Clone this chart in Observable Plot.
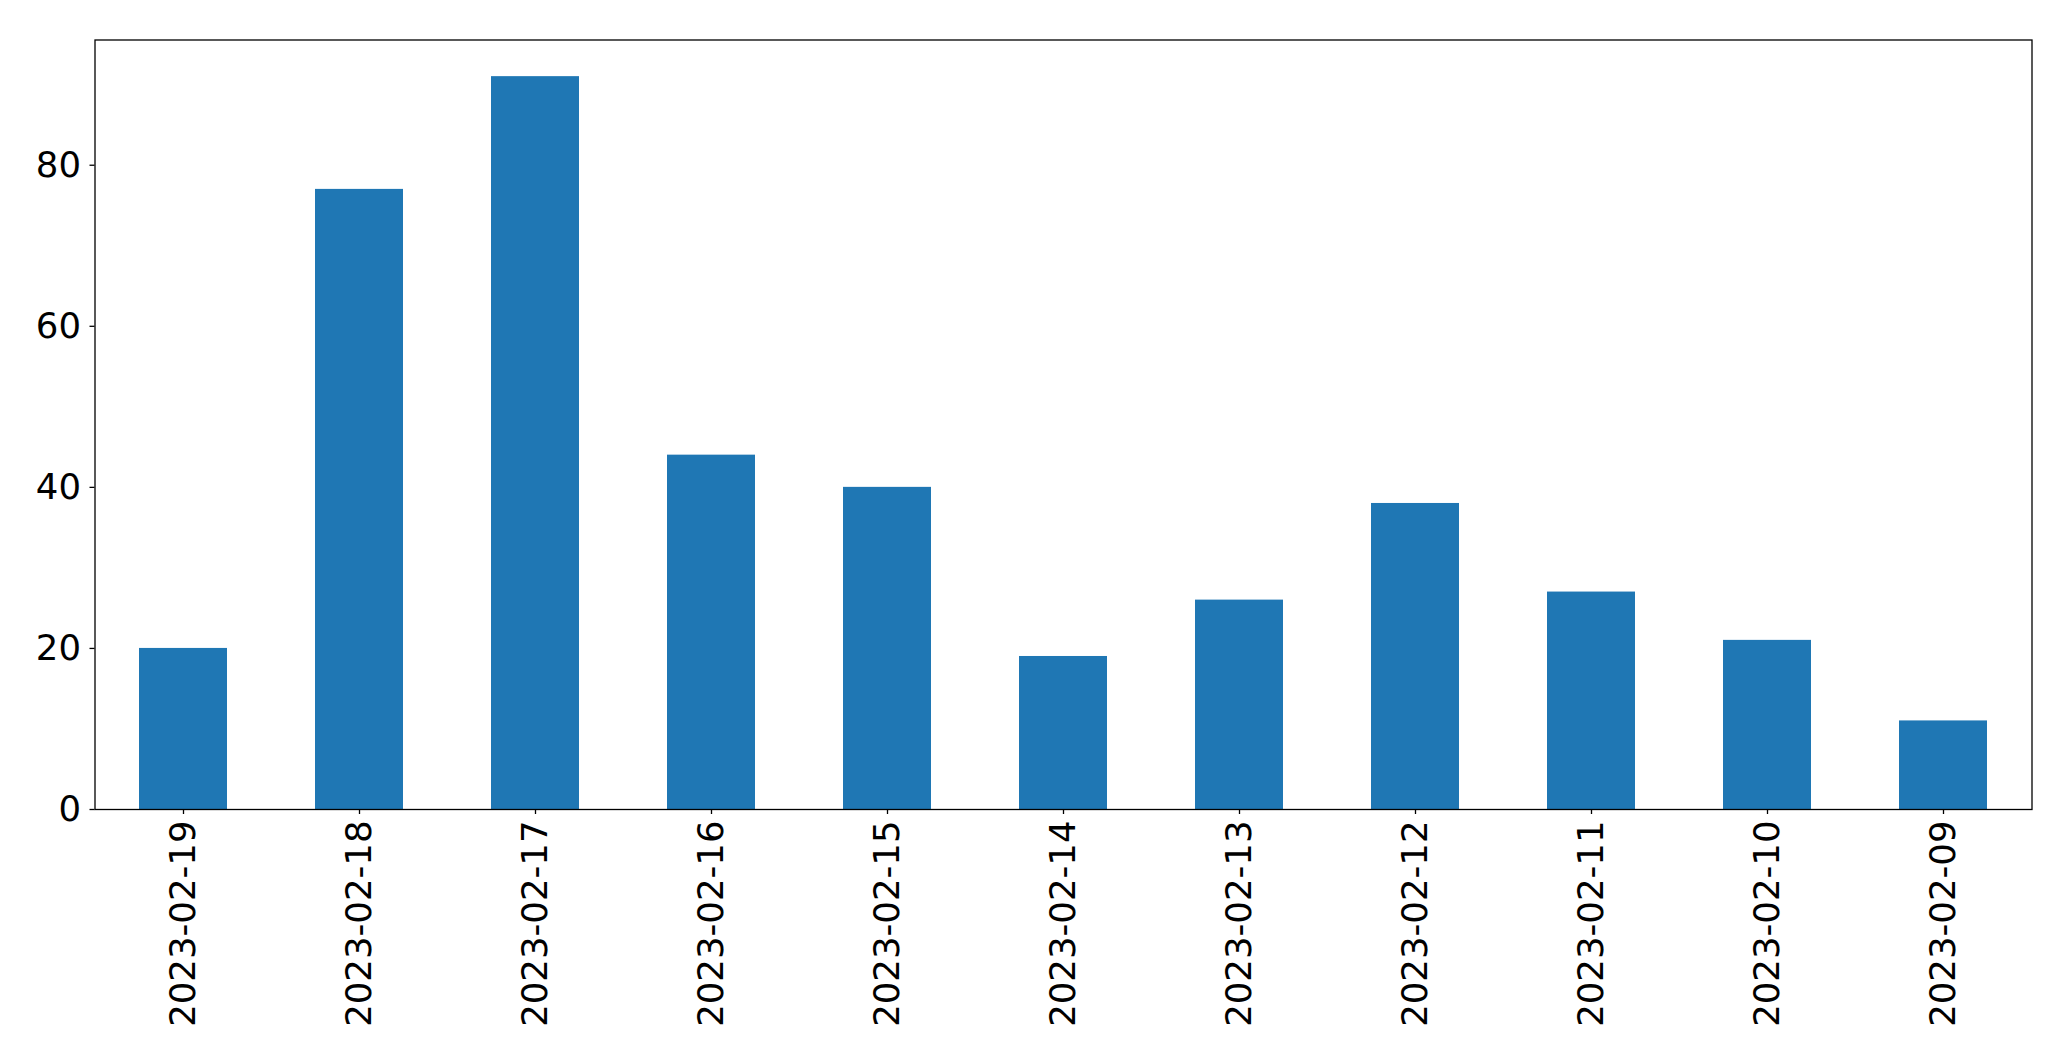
<!DOCTYPE html>
<html>
<head>
<meta charset="utf-8">
<script src="https://cdn.jsdelivr.net/npm/d3@7"></script>
<script src="https://cdn.jsdelivr.net/npm/@observablehq/plot@0.6"></script>
<style>
  html, body { margin: 0; padding: 0; background: #fff; }
  #chart svg { display: block; }
</style>
</head>
<body>
<div id="chart"></div>
<script>
const dates = ["2023-02-19","2023-02-18","2023-02-17","2023-02-16","2023-02-15","2023-02-14","2023-02-13","2023-02-12","2023-02-11","2023-02-10","2023-02-09"];
const counts = [20, 77, 91, 44, 40, 19, 26, 38, 27, 21, 11];
const yTicks = [0, 20, 40, 60, 80];

const data = dates.map((d, i) => ({date: d, count: counts[i]}));

const chart = Plot.plot({
  width: 2071,
  height: 1061,
  marginLeft: 94.5,
  marginRight: 39.5,
  marginTop: 39.5,
  marginBottom: 252,
  style: {fontFamily: "DejaVu Sans", fontSize: "35.5px", color: "#000", background: "#fff"},
  x: {domain: dates, paddingInner: 0.5, paddingOuter: 0.25, align: 0.5},
  y: {domain: [0, 95.55]},
  marks: [
    Plot.barY(data, {x: "date", y: "count", fill: "#1f77b4"}),
    Plot.axisY({ticks: yTicks, tickSize: 5, tickPadding: 9, label: null, stroke: "#000", strokeWidth: 1.3, fill: "#000"}),
    Plot.axisX({tickRotate: -90, tickSize: 5, tickPadding: 6, label: null, stroke: "#000", strokeWidth: 1.3, fill: "#000"}),
    Plot.frame({stroke: "#000", strokeWidth: 1.3, strokeOpacity: 1})
  ]
});
document.getElementById("chart").appendChild(chart);
</script>
</body>
</html>
